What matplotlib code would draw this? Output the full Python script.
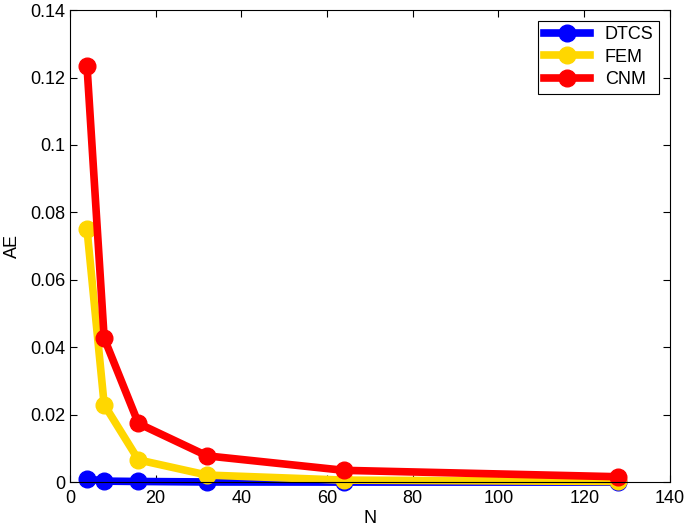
import matplotlib
matplotlib.use('Agg')
import matplotlib.pyplot as plt

plt.rcParams['font.family'] = ['Liberation Sans', 'DejaVu Sans']

N = [4, 8, 16, 32, 64, 128]
dtcs = [0.0010, 0.0003, 0.0002, 0.00005, 0.00002, 0.00001]
fem = [0.0750, 0.0230, 0.0066, 0.0021, 0.0006, 0.0002]
cnm = [0.1234, 0.0427, 0.0174, 0.0078, 0.0035, 0.0016]

fig = plt.figure(figsize=(6.85, 5.31), dpi=100)
ax = fig.add_axes([0.102, 0.092, 0.876, 0.889])

ax.plot(N, dtcs, '-o', color='#0000ff', lw=5.5, ms=12, label='DTCS', clip_on=False)
ax.plot(N, fem, '-o', color='#ffd700', lw=5.5, ms=12, label='FEM', clip_on=False)
ax.plot(N, cnm, '-o', color='#ff0000', lw=5.5, ms=12, label='CNM', clip_on=False)

ax.set_xlim(0, 140)
ax.set_ylim(0, 0.14)
ax.set_xticks(range(0, 141, 20))
ax.set_yticks([0, 0.02, 0.04, 0.06, 0.08, 0.1, 0.12, 0.14])
ax.set_yticklabels(['0', '0.02', '0.04', '0.06', '0.08', '0.1', '0.12', '0.14'])
ax.tick_params(direction='in', top=True, right=True, labelsize=13, length=5)
ax.tick_params(axis='x', pad=6)
ax.set_xlabel('N', fontsize=13, labelpad=2)
ax.set_ylabel('AE', fontsize=13, labelpad=6)

leg = ax.legend(loc='upper right', fontsize=13, fancybox=False, framealpha=1,
                edgecolor='black', handlelength=2.6, borderaxespad=0.6,
                borderpad=0.3, labelspacing=0.3)
leg.get_frame().set_linewidth(0.8)

fig.savefig('out.png', dpi=100)
